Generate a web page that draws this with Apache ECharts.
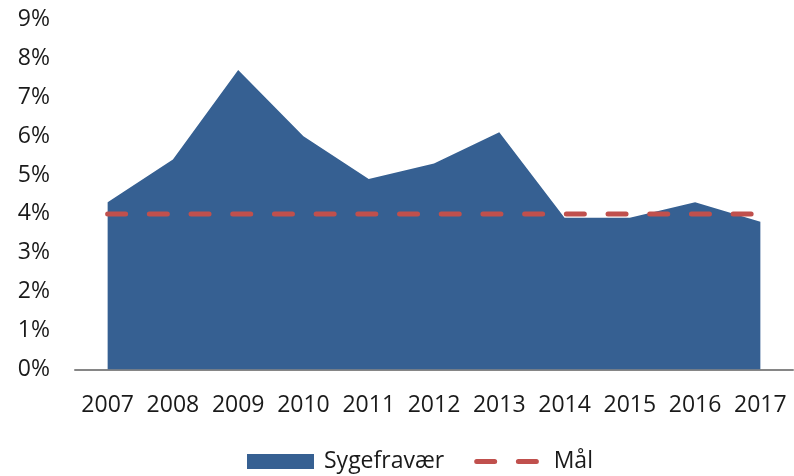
<!DOCTYPE html>
<html>
<head>
<meta charset="utf-8">
<script src="https://cdn.jsdelivr.net/npm/echarts@6/dist/echarts.min.js"></script>
<style>
  html, body { margin: 0; padding: 0; background: #fff; }
  #chart { width: 794px; height: 476px; }
</style>
</head>
<body>
<div id="chart"></div>
<script>
// Sickness absence per year versus the 4% target
const years = ['2007', '2008', '2009', '2010', '2011', '2012', '2013', '2014', '2015', '2016', '2017'];
const sygefravaer = [4.3, 5.4, 7.7, 6.0, 4.9, 5.3, 6.1, 3.9, 3.9, 4.3, 3.8];
const maal = [4, 4, 4, 4, 4, 4, 4, 4, 4, 4, 4];
const yTicks = [0, 1, 2, 3, 4, 5, 6, 7, 8, 9];

const font = '"Open Sans", "Liberation Sans", sans-serif';
const fontSize = 23;
const textColor = '#1a1a1a';
const blue = '#366092';
const red = '#C0504D';
const dash = { color: red, width: 5, type: [18, 23.7], cap: 'round' };

const chart = echarts.init(document.getElementById('chart'), null, { renderer: 'canvas' });
chart.setOption({
  animation: false,
  backgroundColor: '#ffffff',
  grid: { left: 75, right: 1, top: 19.5, bottom: 106.5, containLabel: false },
  legend: {
    top: 450,
    left: 247,
    padding: 0,
    itemWidth: 67,
    itemHeight: 15,
    itemGap: 30,
    textStyle: { fontFamily: font, fontSize: fontSize, color: textColor, padding: [0, 0, 0, 5] },
    data: [
      { name: 'Sygefravær', icon: 'rect' },
      {
        name: 'Mål',
        itemStyle: { color: 'rgba(0,0,0,0)', borderColor: 'rgba(0,0,0,0)', borderWidth: 0 },
        lineStyle: dash
      }
    ]
  },
  xAxis: {
    type: 'category',
    data: years,
    boundaryGap: true,
    axisLine: { lineStyle: { color: '#868686', width: 2 } },
    axisTick: { show: false },
    axisLabel: { fontFamily: font, fontSize: fontSize, color: textColor, margin: 24, interval: 0 }
  },
  yAxis: {
    type: 'value',
    min: yTicks[0],
    max: yTicks[yTicks.length - 1],
    interval: 1,
    axisLine: { show: false },
    axisTick: { show: false },
    splitLine: { show: false },
    axisLabel: {
      fontFamily: font, fontSize: fontSize, color: textColor, margin: 25,
      formatter: v => v + '%'
    }
  },
  series: [
    {
      name: 'Sygefravær',
      type: 'line',
      data: sygefravaer,
      symbol: 'none',
      itemStyle: { color: blue },
      lineStyle: { width: 0, color: blue },
      areaStyle: { color: blue, opacity: 1 },
      z: 1
    },
    {
      name: 'Mål',
      type: 'line',
      data: maal,
      symbol: 'none',
      itemStyle: { color: red },
      lineStyle: dash,
      z: 2
    }
  ]
});
</script>
</body>
</html>
